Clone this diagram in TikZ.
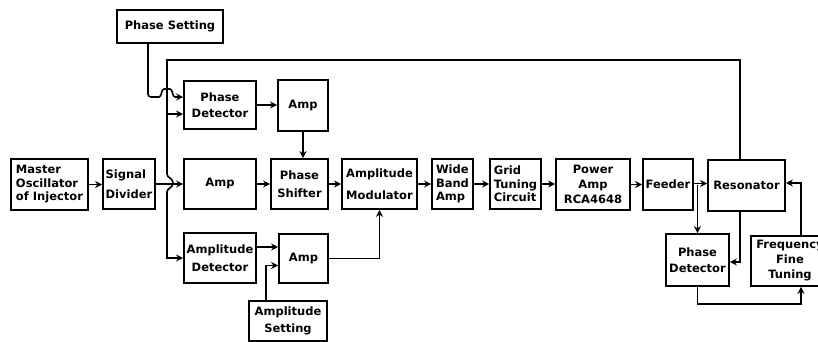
\documentclass[tikz,border=0pt]{standalone}
\usepackage{fontspec}
\newfontfamily\dv{DejaVu Sans}
\usetikzlibrary{arrows.meta,calc}
\begin{document}
\begin{tikzpicture}[x=1pt,y=-1pt,
  blk/.style={draw, line width=1.8pt, inner sep=0pt, align=center,
    font=\dv\bfseries\fontsize{11.5}{13.5}\selectfont},
  wire/.style={line width=1.6pt},
  arr/.style={wire, -{Stealth[length=7pt,width=7pt]}}]
\useasboundingbox (0,0) rectangle (818,342);
\clip (0,0) rectangle (818,342);
% blocks
\node[blk, minimum width=106pt, minimum height=33pt] (ps) at (170,26.5) {Phase Setting};
\node[blk, align=left, minimum width=77pt, minimum height=51pt] (mo) at (49.5,184.5) {Master\\Oscillator\\of Injector};
\node[blk, align=left, minimum width=52pt, minimum height=50pt] (sd) at (129,184) {Signal\\[6pt]Divider};
\node[blk, minimum width=72pt, minimum height=48pt] (pd1) at (220,105) {Phase\\[3pt]Detector};
\node[blk, minimum width=72pt, minimum height=50pt] (amp2) at (220,184) {Amp};
\node[blk, minimum width=72pt, minimum height=50pt] (ad) at (220,258) {Amplitude\\[5pt]Detector};
\node[blk, minimum width=50pt, minimum height=51pt] (amp1) at (303,105.5) {Amp};
\node[blk, minimum width=57pt, minimum height=50pt] (psh) at (299.5,184) {Phase\\[4pt]Shifter};
\node[blk, minimum width=49pt, minimum height=49pt] (amp3) at (303.5,258.5) {Amp};
\node[blk, minimum width=78pt, minimum height=40pt] (as) at (288,321) {Amplitude\\[3pt]Setting};
\node[blk, minimum width=75pt, minimum height=50pt] (am) at (379.5,184) {Amplitude\\[8pt]Modulator};
\node[blk, align=left, minimum width=41pt, minimum height=50pt] (wba) at (452.5,184) {Wide\\Band\\Amp};
\node[blk, align=left, minimum width=51pt, minimum height=50pt] (gtc) at (515.5,184) {Grid\\Tuning\\Circuit};
\node[blk, minimum width=74pt, minimum height=51pt] (pa) at (593,184.5) {Power\\[1.5pt]Amp\\[1.5pt]RCA4648};
\node[blk, minimum width=50pt, minimum height=51pt] (fd) at (668,184.5) {Feeder};
\node[blk, minimum width=77pt, minimum height=51pt] (res) at (746.5,185.5) {Resonator};
\node[blk, minimum width=63pt, minimum height=52pt] (pd2) at (697.5,260) {Phase\\[3pt]Detector};
\node[blk, minimum width=78pt, minimum height=50pt] (fft) at (790,261) {Frequency\\[1.5pt]Fine\\[1.5pt]Tuning};
% helper coordinates
\coordinate (bus) at (167,60);
\coordinate (pdA) at ([yshift=8pt]pd1.west);
\coordinate (pdB) at ([yshift=-9pt]pd1.west);
% main chain
\draw[arr] (mo.east) -- (mo.east -| sd.west);
\draw[arr] (sd.east) -- (sd.east -| amp2.west);
\draw[arr] (amp2.east) -- (amp2.east -| psh.west);
\draw[arr] (psh.east) -- (psh.east -| am.west);
\draw[arr] (am.east) -- (am.east -| wba.west);
\draw[arr] (wba.east) -- (wba.east -| gtc.west);
\draw[arr] (gtc.east) -- (gtc.east -| pa.west);
\draw[arr] (pa.east) -- (pa.east -| fd.west);
\draw[arr] ([yshift=1pt]fd.east) -- ([yshift=1pt]fd.east -| res.west);
% feedback bus
\draw[arr] ([xshift=-6.5pt]res.north) |- (bus) -- (167,174)
  .. controls (167,178) and (173,178) .. (173,183)
  .. controls (173,188) and (167,188) .. (167,192) |- (ad.west);
\draw[arr] (bus |- pdB) -- (pdB);
% phase setting
\draw[arr, rounded corners=3pt] ([xshift=-22pt]ps.south) |- (156,97)
  .. controls (162,97) and (161,89) .. (167,89)
  .. controls (173,89) and (172,97) .. (178,97) -- (pdA);
% phase loop
\draw[arr] (pd1.east) -- (pd1.east -| amp1.west);
\draw[arr] (amp1.south) -- (amp1.south |- psh.north);
% amplitude loop
\draw[arr] ([yshift=11pt]ad.east) -- ([yshift=11pt]ad.east -| amp3.west);
\draw[arr] ([xshift=-22pt]as.north) |- ([yshift=-7pt]amp3.west);
\draw[arr] (amp3.east) -| (am.south);
% resonator loop
\draw[arr] (pd2.north |- fd.east) -- (pd2.north);
\draw[arr] ([xshift=-6.5pt]res.south) |- ([yshift=-2pt]pd2.east);
\draw[arr] (pd2.south) -- ++(0,17) -| ([xshift=11pt]fft.south);
\draw[arr] ([xshift=11pt]fft.north) |- ([yshift=2.5pt]res.east);
\end{tikzpicture}
\end{document}
